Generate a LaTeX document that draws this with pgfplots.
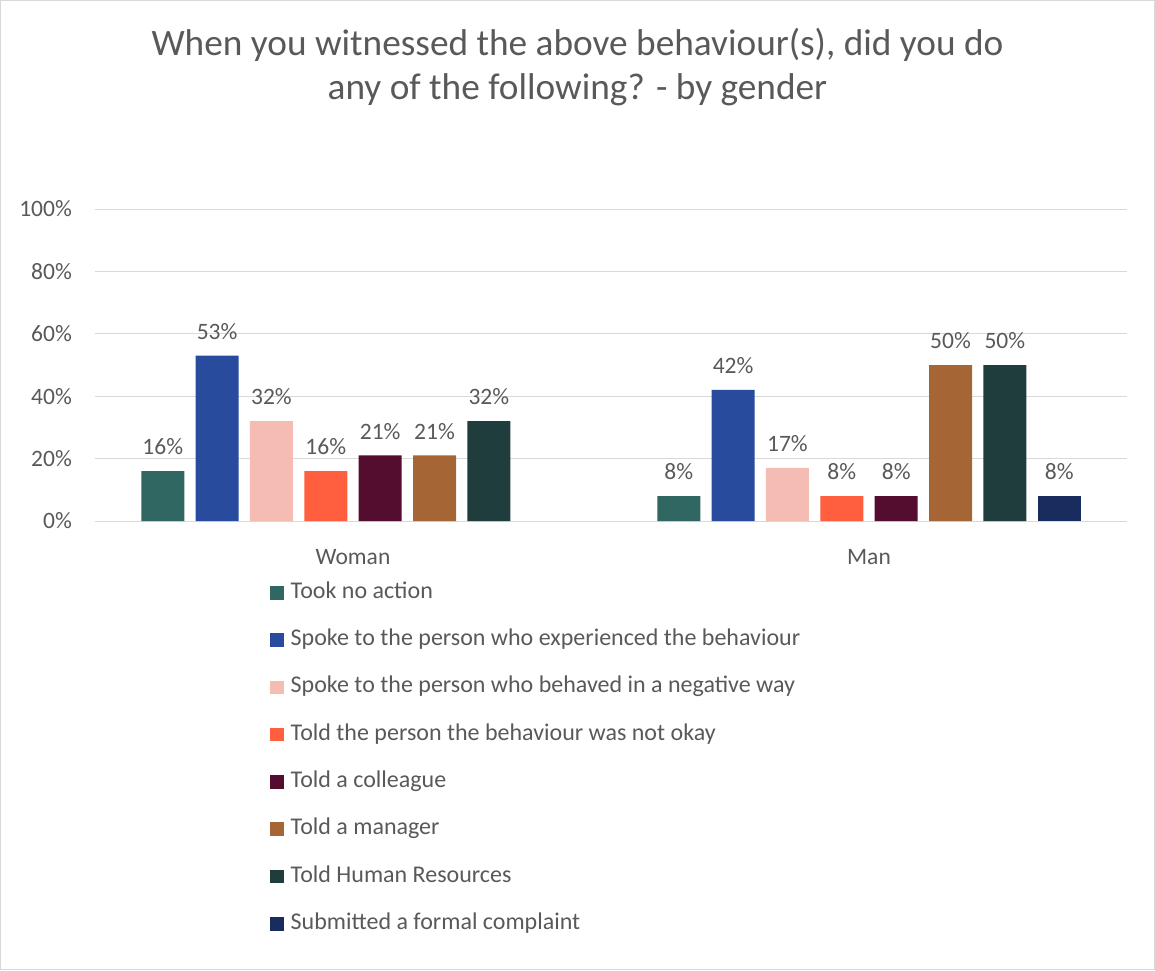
\documentclass[border=0pt]{standalone}
\usepackage{pgfplots}
\pgfplotsset{compat=1.18}
\usepackage{fontspec}
\setmainfont{Carlito}
\definecolor{txt}{HTML}{595959}
\definecolor{gridc}{HTML}{D9D9D9}
\definecolor{c1}{HTML}{316762}
\definecolor{c2}{HTML}{284B9E}
\definecolor{c3}{HTML}{F4BCB3}
\definecolor{c4}{HTML}{FF5E3F}
\definecolor{c5}{HTML}{540D2E}
\definecolor{c6}{HTML}{A66535}
\definecolor{c7}{HTML}{1F3D3C}
\definecolor{c8}{HTML}{182D5E}
\begin{document}
\begin{tikzpicture}[x=1pt,y=1pt]
\path[draw=gridc, line width=1pt] (0.5,0.5) rectangle (1154.5,969.5);
\begin{axis}[
  at={(95pt,449pt)}, anchor=south west,
  scale only axis, width=1032pt, height=312pt,
  xmin=-0.5, xmax=1.5, ymin=0, ymax=100,
  ybar, bar width=0.0833,
  axis line style={draw=none},
  tick style={draw=none},
  xmajorgrids=false,
  ymajorgrids, grid style={draw=gridc, line width=1pt},
  ytick={0,20,40,60,80,100},
  yticklabels={0\%,20\%,40\%,60\%,80\%,100\%},
  xtick={0,1}, xticklabels={Woman,Man},
  tick label style={font=\fontsize{23.5}{28}\selectfont, text=txt},
  yticklabel style={anchor=east, inner sep=0pt, xshift=-23pt},
  xticklabel style={anchor=north, inner sep=0pt, yshift=-24pt},
  nodes near coords={\pgfmathprintnumber[assume math mode=true]{\pgfplotspointmeta}\%},
  every node near coord/.append style={font=\fontsize{23.5}{28}\selectfont, text=txt, inner sep=2pt, yshift=14pt},
  legend style={at={(0.1696,-0.1923)}, anchor=north west, draw=none, fill=none, inner sep=0pt,
    font=\fontsize{24}{28}\selectfont, text=txt, row sep=24.3pt,
    nodes={inner sep=0pt, text height=17pt, text depth=6pt},
    /tikz/every odd column/.append style={column sep=7pt}},
  legend cell align=left,
  legend image code/.code={\fill[#1] (0pt,-6.8pt) rectangle (13.5pt,6.8pt);},
]
\addplot[fill=c1, draw=none, bar shift=-0.3686] coordinates {(0,16) (1,8)};
\addplot[fill=c2, draw=none, bar shift=-0.2633] coordinates {(0,53) (1,42)};
\addplot[fill=c3, draw=none, bar shift=-0.1580] coordinates {(0,32) (1,17)};
\addplot[fill=c4, draw=none, bar shift=-0.0527] coordinates {(0,16) (1,8)};
\addplot[fill=c5, draw=none, bar shift=0.0527] coordinates {(0,21) (1,8)};
\addplot[fill=c6, draw=none, bar shift=0.1580] coordinates {(0,21) (1,50)};
\addplot[fill=c7, draw=none, bar shift=0.2633] coordinates {(0,32) (1,50)};
\addplot[fill=c8, draw=none, bar shift=0.3686] coordinates {(1,8)};
\legend{Took no action, Spoke to the person who experienced the behaviour, Spoke to the person who behaved in a negative way, Told the person the behaviour was not okay, Told a colleague, Told a manager, Told Human Resources, Submitted a formal complaint}
\end{axis}
\node[anchor=base, text=txt, font=\fontsize{37.3}{44}\selectfont, inner sep=0pt] at (577.5,914) {When you witnessed the above behaviour(s), did you do};
\node[anchor=base, text=txt, font=\fontsize{37.3}{44}\selectfont, inner sep=0pt] at (577.5,870) {any of the following? - by gender};
\end{tikzpicture}
\end{document}
